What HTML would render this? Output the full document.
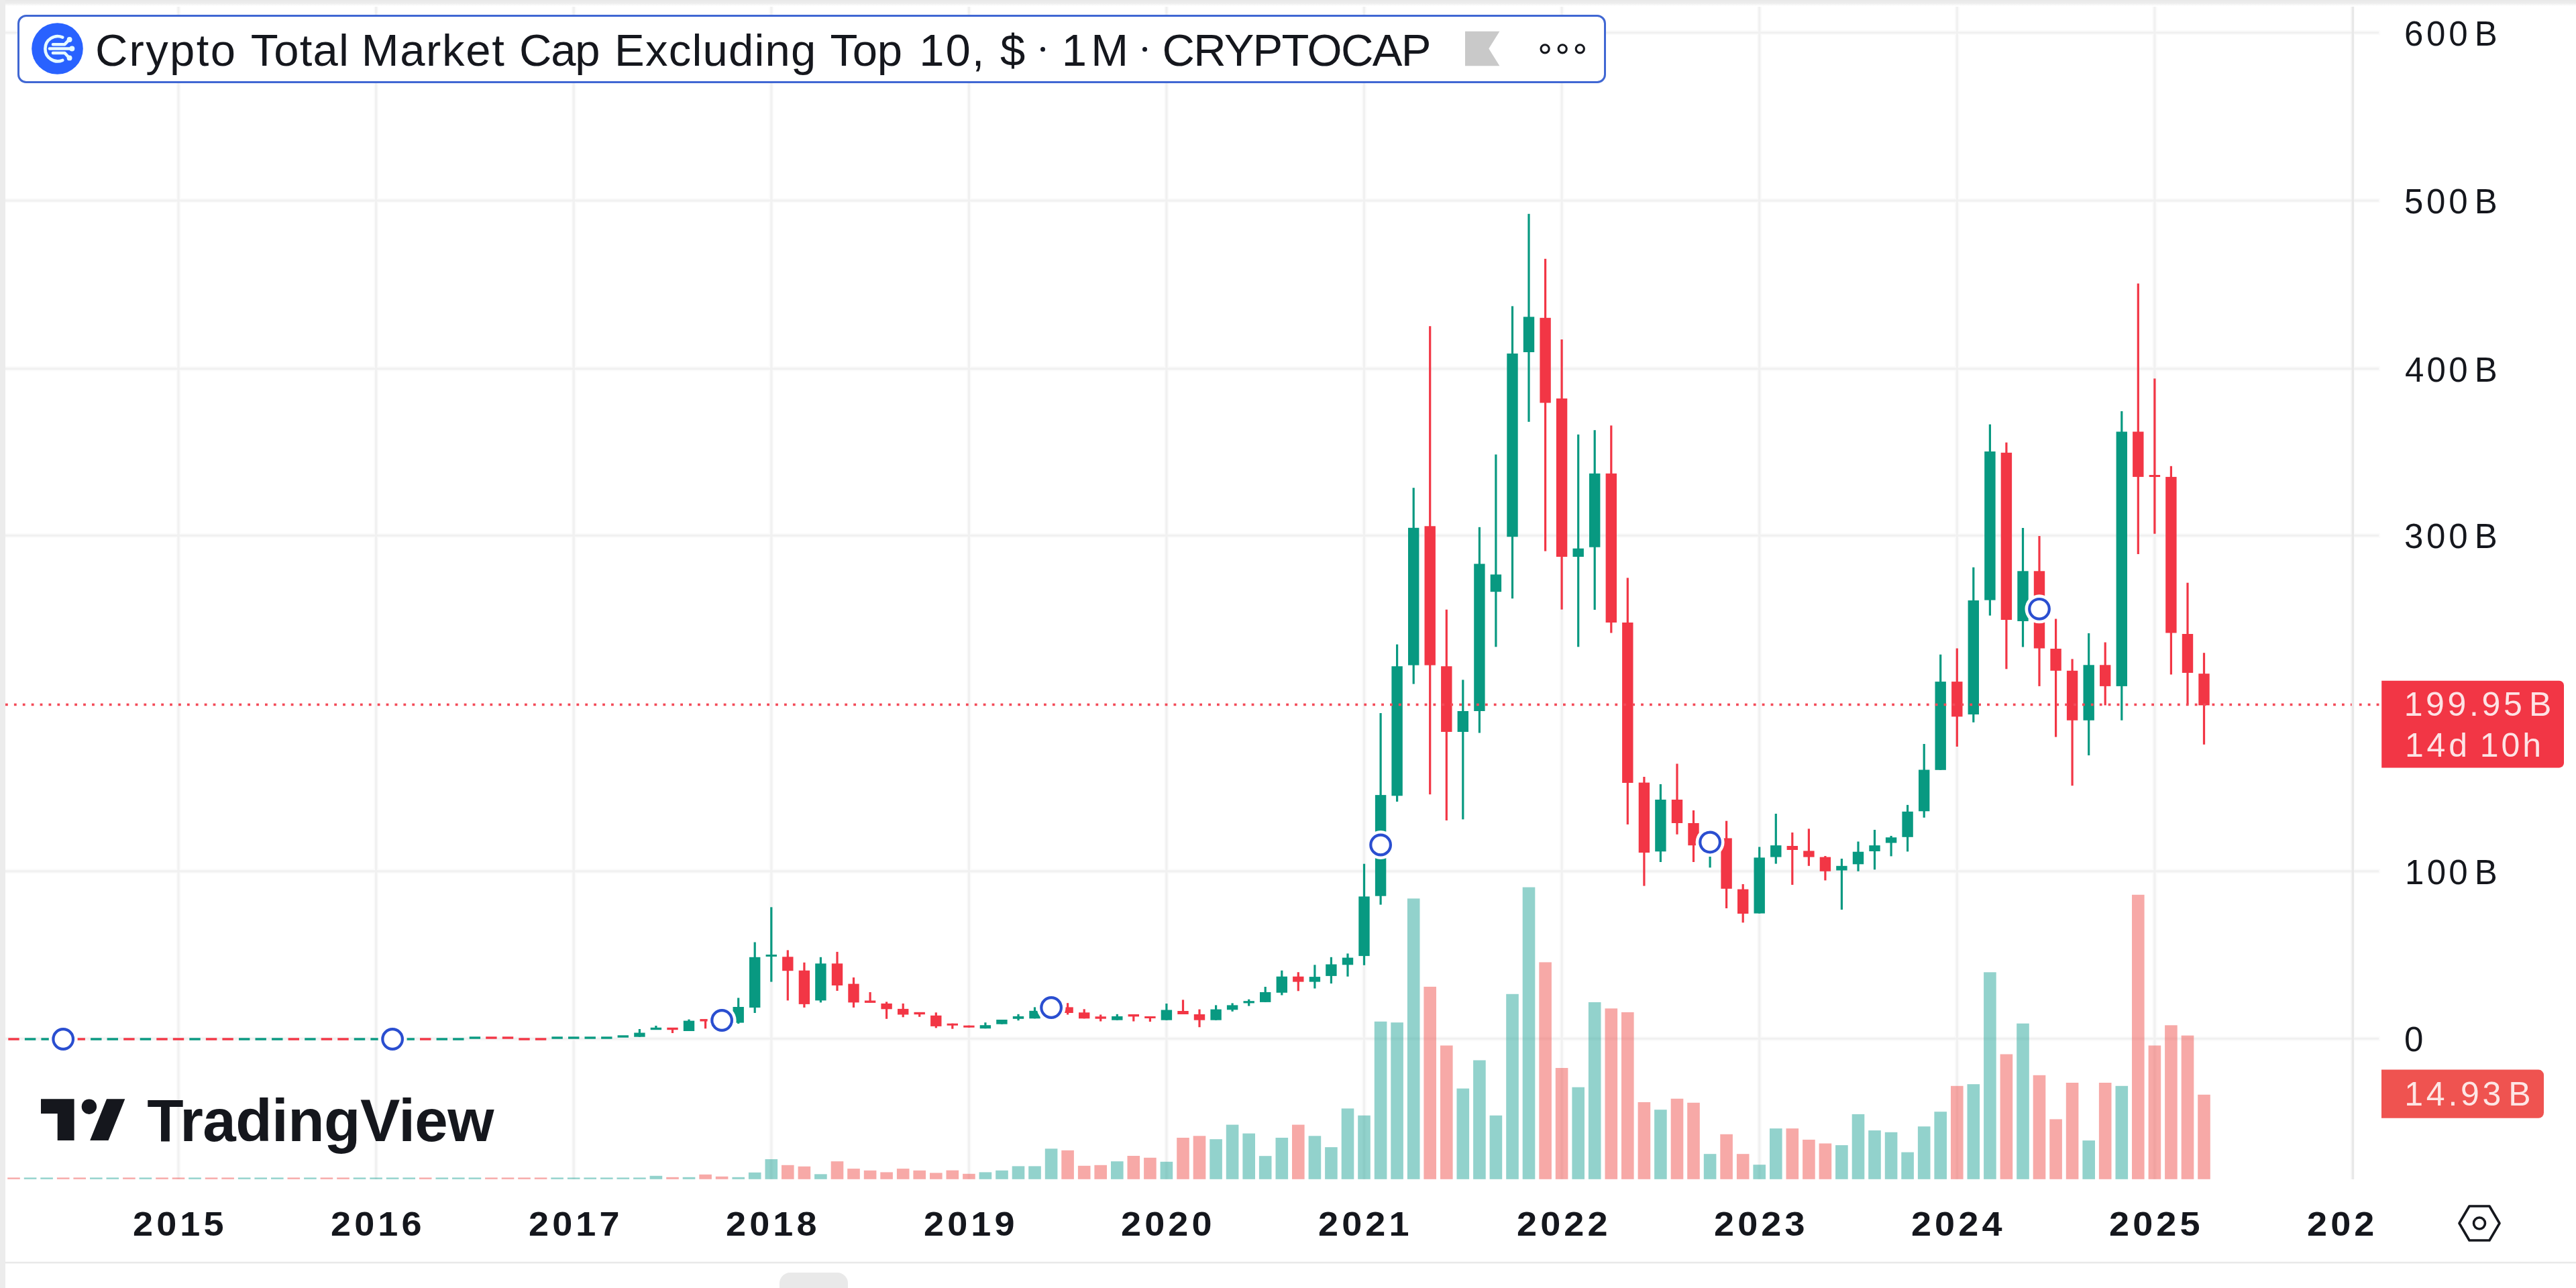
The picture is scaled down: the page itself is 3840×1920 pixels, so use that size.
<!DOCTYPE html>
<html><head><meta charset="utf-8">
<style>
html,body{margin:0;padding:0;background:#fff;}
body{width:3840px;height:1920px;position:relative;overflow:hidden;font-family:"Liberation Sans",sans-serif;}
#chart{position:absolute;left:0;top:0;}
.abs{position:absolute;white-space:nowrap;}
.ax{position:absolute;left:3584px;font-size:48px;color:#15171d;line-height:48px;height:48px;white-space:nowrap;letter-spacing:1.5px;}
.yr{position:absolute;top:1797px;font-size:49px;font-weight:bold;color:#15171d;line-height:56px;width:300px;margin-left:-150px;text-align:center;letter-spacing:5px;}
#hdr{position:absolute;left:26px;top:22px;width:2361.6px;height:95.6px;border:3.2px solid #4067d3;border-radius:13px;background:#fff;}
#title{position:absolute;left:144px;top:34px;font-size:68px;line-height:76px;color:#15171d;white-space:nowrap;}
</style></head><body>
<svg id="chart" width="3840" height="1920" viewBox="0 0 3840 1920">
<rect x="0" y="0" width="3840" height="1920" fill="#fff"/>
<defs><linearGradient id="tg" x1="0" y1="0" x2="0" y2="1"><stop offset="0" stop-color="#e8e8e8"/><stop offset="0.55" stop-color="#eeeeee"/><stop offset="1" stop-color="#ffffff"/></linearGradient></defs><rect x="0" y="0" width="3840" height="9" fill="url(#tg)"/>
<rect x="0" y="0" width="8" height="1920" fill="#ececec"/>
<rect x="8" y="45.2" width="3540" height="7" fill="#fbfbfb"/>
<rect x="8" y="295.5" width="3540" height="7" fill="#fbfbfb"/>
<rect x="8" y="546.2" width="3540" height="7" fill="#fbfbfb"/>
<rect x="8" y="794.8" width="3540" height="7" fill="#fbfbfb"/>
<rect x="8" y="1295.3" width="3540" height="7" fill="#fbfbfb"/>
<rect x="8" y="1544.8" width="3540" height="7" fill="#fbfbfb"/>
<rect x="262.5" y="10" width="7" height="1748" fill="#fbfbfb"/>
<rect x="557.1" y="10" width="7" height="1748" fill="#fbfbfb"/>
<rect x="851.7" y="10" width="7" height="1748" fill="#fbfbfb"/>
<rect x="1146.3" y="10" width="7" height="1748" fill="#fbfbfb"/>
<rect x="1440.9" y="10" width="7" height="1748" fill="#fbfbfb"/>
<rect x="1735.4" y="10" width="7" height="1748" fill="#fbfbfb"/>
<rect x="2030.0" y="10" width="7" height="1748" fill="#fbfbfb"/>
<rect x="2324.6" y="10" width="7" height="1748" fill="#fbfbfb"/>
<rect x="2619.2" y="10" width="7" height="1748" fill="#fbfbfb"/>
<rect x="2913.8" y="10" width="7" height="1748" fill="#fbfbfb"/>
<rect x="3208.4" y="10" width="7" height="1748" fill="#fbfbfb"/>
<rect x="3503.0" y="10" width="7" height="1748" fill="#fbfbfb"/>
<rect x="8" y="47.1" width="3538" height="3.2" fill="#f1f1f1"/>
<rect x="8" y="297.4" width="3538" height="3.2" fill="#f1f1f1"/>
<rect x="8" y="548.1" width="3538" height="3.2" fill="#f1f1f1"/>
<rect x="8" y="796.7" width="3538" height="3.2" fill="#f1f1f1"/>
<rect x="8" y="1297.2" width="3538" height="3.2" fill="#f1f1f1"/>
<rect x="8" y="1546.7" width="3538" height="3.2" fill="#f1f1f1"/>
<rect x="264.4" y="10" width="3.2" height="1748" fill="#f1f1f1"/>
<rect x="559.0" y="10" width="3.2" height="1748" fill="#f1f1f1"/>
<rect x="853.6" y="10" width="3.2" height="1748" fill="#f1f1f1"/>
<rect x="1148.2" y="10" width="3.2" height="1748" fill="#f1f1f1"/>
<rect x="1442.8" y="10" width="3.2" height="1748" fill="#f1f1f1"/>
<rect x="1737.3" y="10" width="3.2" height="1748" fill="#f1f1f1"/>
<rect x="2031.9" y="10" width="3.2" height="1748" fill="#f1f1f1"/>
<rect x="2326.5" y="10" width="3.2" height="1748" fill="#f1f1f1"/>
<rect x="2621.1" y="10" width="3.2" height="1748" fill="#f1f1f1"/>
<rect x="2915.7" y="10" width="3.2" height="1748" fill="#f1f1f1"/>
<rect x="3210.3" y="10" width="3.2" height="1748" fill="#f1f1f1"/>
<rect x="11.2" y="1755.4" width="18.6" height="2.4" fill="rgba(239,83,80,0.5)"/>
<rect x="35.8" y="1755.4" width="18.6" height="2.4" fill="rgba(38,166,154,0.5)"/>
<rect x="60.3" y="1755.4" width="18.6" height="2.4" fill="rgba(38,166,154,0.5)"/>
<rect x="84.9" y="1755.4" width="18.6" height="2.4" fill="rgba(239,83,80,0.5)"/>
<rect x="109.4" y="1755.4" width="18.6" height="2.4" fill="rgba(239,83,80,0.5)"/>
<rect x="134.0" y="1755.4" width="18.6" height="2.4" fill="rgba(38,166,154,0.5)"/>
<rect x="158.5" y="1755.4" width="18.6" height="2.4" fill="rgba(38,166,154,0.5)"/>
<rect x="183.1" y="1755.4" width="18.6" height="2.4" fill="rgba(239,83,80,0.5)"/>
<rect x="207.6" y="1755.4" width="18.6" height="2.4" fill="rgba(38,166,154,0.5)"/>
<rect x="232.2" y="1755.4" width="18.6" height="2.4" fill="rgba(239,83,80,0.5)"/>
<rect x="256.7" y="1755.4" width="18.6" height="2.4" fill="rgba(239,83,80,0.5)"/>
<rect x="281.2" y="1755.4" width="18.6" height="2.4" fill="rgba(38,166,154,0.5)"/>
<rect x="305.8" y="1755.4" width="18.6" height="2.4" fill="rgba(239,83,80,0.5)"/>
<rect x="330.3" y="1755.4" width="18.6" height="2.4" fill="rgba(239,83,80,0.5)"/>
<rect x="354.9" y="1755.4" width="18.6" height="2.4" fill="rgba(38,166,154,0.5)"/>
<rect x="379.4" y="1755.4" width="18.6" height="2.4" fill="rgba(38,166,154,0.5)"/>
<rect x="404.0" y="1755.4" width="18.6" height="2.4" fill="rgba(38,166,154,0.5)"/>
<rect x="428.5" y="1755.4" width="18.6" height="2.4" fill="rgba(239,83,80,0.5)"/>
<rect x="453.1" y="1755.4" width="18.6" height="2.4" fill="rgba(38,166,154,0.5)"/>
<rect x="477.6" y="1755.4" width="18.6" height="2.4" fill="rgba(239,83,80,0.5)"/>
<rect x="502.2" y="1755.4" width="18.6" height="2.4" fill="rgba(239,83,80,0.5)"/>
<rect x="526.7" y="1755.4" width="18.6" height="2.4" fill="rgba(38,166,154,0.5)"/>
<rect x="551.3" y="1755.4" width="18.6" height="2.4" fill="rgba(38,166,154,0.5)"/>
<rect x="575.8" y="1755.4" width="18.6" height="2.4" fill="rgba(38,166,154,0.5)"/>
<rect x="600.4" y="1755.4" width="18.6" height="2.4" fill="rgba(38,166,154,0.5)"/>
<rect x="624.9" y="1755.4" width="18.6" height="2.4" fill="rgba(239,83,80,0.5)"/>
<rect x="649.5" y="1755.4" width="18.6" height="2.4" fill="rgba(38,166,154,0.5)"/>
<rect x="674.0" y="1755.4" width="18.6" height="2.4" fill="rgba(38,166,154,0.5)"/>
<rect x="698.6" y="1755.4" width="18.6" height="2.4" fill="rgba(38,166,154,0.5)"/>
<rect x="723.1" y="1755.4" width="18.6" height="2.4" fill="rgba(239,83,80,0.5)"/>
<rect x="747.7" y="1755.4" width="18.6" height="2.4" fill="rgba(239,83,80,0.5)"/>
<rect x="772.2" y="1755.4" width="18.6" height="2.4" fill="rgba(239,83,80,0.5)"/>
<rect x="796.8" y="1755.4" width="18.6" height="2.4" fill="rgba(239,83,80,0.5)"/>
<rect x="821.3" y="1755.4" width="18.6" height="2.4" fill="rgba(38,166,154,0.5)"/>
<rect x="845.9" y="1755.4" width="18.6" height="2.4" fill="rgba(38,166,154,0.5)"/>
<rect x="870.4" y="1755.4" width="18.6" height="2.4" fill="rgba(38,166,154,0.5)"/>
<rect x="895.0" y="1755.4" width="18.6" height="2.4" fill="rgba(38,166,154,0.5)"/>
<rect x="919.5" y="1755.4" width="18.6" height="2.4" fill="rgba(38,166,154,0.5)"/>
<rect x="944.1" y="1755.4" width="18.6" height="2.4" fill="rgba(38,166,154,0.5)"/>
<rect x="968.6" y="1752.8" width="18.6" height="5.0" fill="rgba(38,166,154,0.5)"/>
<rect x="993.2" y="1754.8" width="18.6" height="3.0" fill="rgba(239,83,80,0.5)"/>
<rect x="1017.7" y="1754.8" width="18.6" height="3.0" fill="rgba(38,166,154,0.5)"/>
<rect x="1042.3" y="1750.8" width="18.6" height="7.0" fill="rgba(239,83,80,0.5)"/>
<rect x="1066.8" y="1753.8" width="18.6" height="4.0" fill="rgba(239,83,80,0.5)"/>
<rect x="1091.4" y="1754.8" width="18.6" height="3.0" fill="rgba(38,166,154,0.5)"/>
<rect x="1115.9" y="1747.8" width="18.6" height="10.0" fill="rgba(38,166,154,0.5)"/>
<rect x="1140.5" y="1728.0" width="18.6" height="29.8" fill="rgba(38,166,154,0.5)"/>
<rect x="1165.0" y="1736.8" width="18.6" height="21.0" fill="rgba(239,83,80,0.5)"/>
<rect x="1189.6" y="1738.8" width="18.6" height="19.0" fill="rgba(239,83,80,0.5)"/>
<rect x="1214.1" y="1750.3" width="18.6" height="7.5" fill="rgba(38,166,154,0.5)"/>
<rect x="1238.7" y="1731.2" width="18.6" height="26.6" fill="rgba(239,83,80,0.5)"/>
<rect x="1263.2" y="1742.1" width="18.6" height="15.7" fill="rgba(239,83,80,0.5)"/>
<rect x="1287.8" y="1744.8" width="18.6" height="13.0" fill="rgba(239,83,80,0.5)"/>
<rect x="1312.3" y="1747.4" width="18.6" height="10.4" fill="rgba(239,83,80,0.5)"/>
<rect x="1336.9" y="1742.1" width="18.6" height="15.7" fill="rgba(239,83,80,0.5)"/>
<rect x="1361.4" y="1744.8" width="18.6" height="13.0" fill="rgba(239,83,80,0.5)"/>
<rect x="1386.0" y="1748.4" width="18.6" height="9.4" fill="rgba(239,83,80,0.5)"/>
<rect x="1410.5" y="1744.6" width="18.6" height="13.2" fill="rgba(239,83,80,0.5)"/>
<rect x="1435.1" y="1749.8" width="18.6" height="8.0" fill="rgba(239,83,80,0.5)"/>
<rect x="1459.6" y="1747.4" width="18.6" height="10.4" fill="rgba(38,166,154,0.5)"/>
<rect x="1484.2" y="1744.8" width="18.6" height="13.0" fill="rgba(38,166,154,0.5)"/>
<rect x="1508.7" y="1738.4" width="18.6" height="19.4" fill="rgba(38,166,154,0.5)"/>
<rect x="1533.2" y="1738.4" width="18.6" height="19.4" fill="rgba(38,166,154,0.5)"/>
<rect x="1557.8" y="1712.3" width="18.6" height="45.5" fill="rgba(38,166,154,0.5)"/>
<rect x="1582.3" y="1714.8" width="18.6" height="43.0" fill="rgba(239,83,80,0.5)"/>
<rect x="1606.9" y="1737.8" width="18.6" height="20.0" fill="rgba(239,83,80,0.5)"/>
<rect x="1631.4" y="1736.8" width="18.6" height="21.0" fill="rgba(239,83,80,0.5)"/>
<rect x="1656.0" y="1731.2" width="18.6" height="26.6" fill="rgba(38,166,154,0.5)"/>
<rect x="1680.5" y="1723.0" width="18.6" height="34.8" fill="rgba(239,83,80,0.5)"/>
<rect x="1705.1" y="1725.8" width="18.6" height="32.0" fill="rgba(239,83,80,0.5)"/>
<rect x="1729.6" y="1731.8" width="18.6" height="26.0" fill="rgba(38,166,154,0.5)"/>
<rect x="1754.2" y="1696.0" width="18.6" height="61.8" fill="rgba(239,83,80,0.5)"/>
<rect x="1778.7" y="1693.3" width="18.6" height="64.5" fill="rgba(239,83,80,0.5)"/>
<rect x="1803.3" y="1698.2" width="18.6" height="59.6" fill="rgba(38,166,154,0.5)"/>
<rect x="1827.8" y="1676.6" width="18.6" height="81.2" fill="rgba(38,166,154,0.5)"/>
<rect x="1852.4" y="1689.6" width="18.6" height="68.2" fill="rgba(38,166,154,0.5)"/>
<rect x="1876.9" y="1723.2" width="18.6" height="34.6" fill="rgba(38,166,154,0.5)"/>
<rect x="1901.5" y="1696.0" width="18.6" height="61.8" fill="rgba(38,166,154,0.5)"/>
<rect x="1926.0" y="1676.6" width="18.6" height="81.2" fill="rgba(239,83,80,0.5)"/>
<rect x="1950.6" y="1693.3" width="18.6" height="64.5" fill="rgba(38,166,154,0.5)"/>
<rect x="1975.1" y="1710.1" width="18.6" height="47.7" fill="rgba(38,166,154,0.5)"/>
<rect x="1999.7" y="1652.4" width="18.6" height="105.4" fill="rgba(38,166,154,0.5)"/>
<rect x="2024.2" y="1662.8" width="18.6" height="95.0" fill="rgba(38,166,154,0.5)"/>
<rect x="2048.8" y="1522.8" width="18.6" height="235.0" fill="rgba(38,166,154,0.5)"/>
<rect x="2073.3" y="1524.2" width="18.6" height="233.6" fill="rgba(38,166,154,0.5)"/>
<rect x="2097.9" y="1339.4" width="18.6" height="418.4" fill="rgba(38,166,154,0.5)"/>
<rect x="2122.4" y="1470.9" width="18.6" height="286.9" fill="rgba(239,83,80,0.5)"/>
<rect x="2147.0" y="1558.5" width="18.6" height="199.3" fill="rgba(239,83,80,0.5)"/>
<rect x="2171.5" y="1622.6" width="18.6" height="135.2" fill="rgba(38,166,154,0.5)"/>
<rect x="2196.1" y="1580.5" width="18.6" height="177.3" fill="rgba(38,166,154,0.5)"/>
<rect x="2220.6" y="1662.8" width="18.6" height="95.0" fill="rgba(38,166,154,0.5)"/>
<rect x="2245.2" y="1481.8" width="18.6" height="276.0" fill="rgba(38,166,154,0.5)"/>
<rect x="2269.7" y="1322.6" width="18.6" height="435.2" fill="rgba(38,166,154,0.5)"/>
<rect x="2294.3" y="1434.4" width="18.6" height="323.4" fill="rgba(239,83,80,0.5)"/>
<rect x="2318.8" y="1592.0" width="18.6" height="165.8" fill="rgba(239,83,80,0.5)"/>
<rect x="2343.4" y="1620.7" width="18.6" height="137.1" fill="rgba(38,166,154,0.5)"/>
<rect x="2367.9" y="1494.0" width="18.6" height="263.8" fill="rgba(38,166,154,0.5)"/>
<rect x="2392.5" y="1503.3" width="18.6" height="254.5" fill="rgba(239,83,80,0.5)"/>
<rect x="2417.0" y="1508.9" width="18.6" height="248.9" fill="rgba(239,83,80,0.5)"/>
<rect x="2441.6" y="1643.0" width="18.6" height="114.8" fill="rgba(239,83,80,0.5)"/>
<rect x="2466.1" y="1654.2" width="18.6" height="103.6" fill="rgba(38,166,154,0.5)"/>
<rect x="2490.7" y="1637.8" width="18.6" height="120.0" fill="rgba(239,83,80,0.5)"/>
<rect x="2515.2" y="1643.8" width="18.6" height="114.0" fill="rgba(239,83,80,0.5)"/>
<rect x="2539.8" y="1720.2" width="18.6" height="37.6" fill="rgba(38,166,154,0.5)"/>
<rect x="2564.3" y="1690.8" width="18.6" height="67.0" fill="rgba(239,83,80,0.5)"/>
<rect x="2588.9" y="1720.2" width="18.6" height="37.6" fill="rgba(239,83,80,0.5)"/>
<rect x="2613.4" y="1736.2" width="18.6" height="21.6" fill="rgba(38,166,154,0.5)"/>
<rect x="2638.0" y="1682.2" width="18.6" height="75.6" fill="rgba(38,166,154,0.5)"/>
<rect x="2662.5" y="1682.2" width="18.6" height="75.6" fill="rgba(239,83,80,0.5)"/>
<rect x="2687.1" y="1698.9" width="18.6" height="58.9" fill="rgba(239,83,80,0.5)"/>
<rect x="2711.6" y="1704.5" width="18.6" height="53.3" fill="rgba(239,83,80,0.5)"/>
<rect x="2736.1" y="1707.1" width="18.6" height="50.7" fill="rgba(38,166,154,0.5)"/>
<rect x="2760.7" y="1660.9" width="18.6" height="96.9" fill="rgba(38,166,154,0.5)"/>
<rect x="2785.2" y="1685.1" width="18.6" height="72.7" fill="rgba(38,166,154,0.5)"/>
<rect x="2809.8" y="1687.8" width="18.6" height="70.0" fill="rgba(38,166,154,0.5)"/>
<rect x="2834.3" y="1717.6" width="18.6" height="40.2" fill="rgba(38,166,154,0.5)"/>
<rect x="2858.9" y="1679.2" width="18.6" height="78.6" fill="rgba(38,166,154,0.5)"/>
<rect x="2883.4" y="1657.2" width="18.6" height="100.6" fill="rgba(38,166,154,0.5)"/>
<rect x="2908.0" y="1618.8" width="18.6" height="139.0" fill="rgba(239,83,80,0.5)"/>
<rect x="2932.5" y="1616.2" width="18.6" height="141.6" fill="rgba(38,166,154,0.5)"/>
<rect x="2957.1" y="1449.3" width="18.6" height="308.5" fill="rgba(38,166,154,0.5)"/>
<rect x="2981.6" y="1571.5" width="18.6" height="186.3" fill="rgba(239,83,80,0.5)"/>
<rect x="3006.2" y="1525.7" width="18.6" height="232.1" fill="rgba(38,166,154,0.5)"/>
<rect x="3030.7" y="1602.8" width="18.6" height="155.0" fill="rgba(239,83,80,0.5)"/>
<rect x="3055.3" y="1668.4" width="18.6" height="89.4" fill="rgba(239,83,80,0.5)"/>
<rect x="3079.8" y="1614.0" width="18.6" height="143.8" fill="rgba(239,83,80,0.5)"/>
<rect x="3104.4" y="1700.1" width="18.6" height="57.7" fill="rgba(38,166,154,0.5)"/>
<rect x="3128.9" y="1614.0" width="18.6" height="143.8" fill="rgba(239,83,80,0.5)"/>
<rect x="3153.5" y="1618.8" width="18.6" height="139.0" fill="rgba(38,166,154,0.5)"/>
<rect x="3178.0" y="1333.8" width="18.6" height="424.0" fill="rgba(239,83,80,0.5)"/>
<rect x="3202.6" y="1558.5" width="18.6" height="199.3" fill="rgba(239,83,80,0.5)"/>
<rect x="3227.1" y="1528.3" width="18.6" height="229.5" fill="rgba(239,83,80,0.5)"/>
<rect x="3251.7" y="1543.6" width="18.6" height="214.2" fill="rgba(239,83,80,0.5)"/>
<rect x="3276.2" y="1631.8" width="18.6" height="126.0" fill="rgba(239,83,80,0.5)"/>
<rect x="12.3" y="1547.3" width="16.4" height="3.4" fill="#f23645"/>
<rect x="36.9" y="1547.3" width="16.4" height="3.4" fill="#089981"/>
<rect x="61.4" y="1547.3" width="16.4" height="3.4" fill="#089981"/>
<rect x="86.0" y="1547.3" width="16.4" height="3.4" fill="#f23645"/>
<rect x="110.5" y="1547.3" width="16.4" height="3.4" fill="#f23645"/>
<rect x="135.1" y="1547.3" width="16.4" height="3.4" fill="#089981"/>
<rect x="159.6" y="1547.3" width="16.4" height="3.4" fill="#089981"/>
<rect x="184.2" y="1547.3" width="16.4" height="3.4" fill="#f23645"/>
<rect x="208.7" y="1547.3" width="16.4" height="3.4" fill="#089981"/>
<rect x="233.3" y="1547.3" width="16.4" height="3.4" fill="#f23645"/>
<rect x="257.8" y="1547.3" width="16.4" height="3.4" fill="#f23645"/>
<rect x="282.3" y="1547.3" width="16.4" height="3.4" fill="#089981"/>
<rect x="306.9" y="1547.3" width="16.4" height="3.4" fill="#f23645"/>
<rect x="331.4" y="1547.3" width="16.4" height="3.4" fill="#f23645"/>
<rect x="356.0" y="1547.3" width="16.4" height="3.4" fill="#089981"/>
<rect x="380.5" y="1547.3" width="16.4" height="3.4" fill="#089981"/>
<rect x="405.1" y="1547.3" width="16.4" height="3.4" fill="#089981"/>
<rect x="429.6" y="1547.3" width="16.4" height="3.4" fill="#f23645"/>
<rect x="454.2" y="1547.3" width="16.4" height="3.4" fill="#089981"/>
<rect x="478.7" y="1547.3" width="16.4" height="3.4" fill="#f23645"/>
<rect x="503.3" y="1547.3" width="16.4" height="3.4" fill="#f23645"/>
<rect x="527.8" y="1547.3" width="16.4" height="3.4" fill="#089981"/>
<rect x="552.4" y="1547.3" width="16.4" height="3.4" fill="#089981"/>
<rect x="576.9" y="1547.3" width="16.4" height="3.4" fill="#089981"/>
<rect x="601.5" y="1547.3" width="16.4" height="3.4" fill="#089981"/>
<rect x="626.0" y="1547.3" width="16.4" height="3.4" fill="#f23645"/>
<rect x="650.6" y="1547.3" width="16.4" height="3.4" fill="#089981"/>
<rect x="675.1" y="1547.3" width="16.4" height="3.4" fill="#089981"/>
<rect x="699.7" y="1545.3" width="16.4" height="3.4" fill="#089981"/>
<rect x="724.2" y="1545.3" width="16.4" height="3.4" fill="#f23645"/>
<rect x="748.8" y="1545.3" width="16.4" height="3.4" fill="#f23645"/>
<rect x="773.3" y="1547.3" width="16.4" height="3.4" fill="#f23645"/>
<rect x="797.9" y="1547.3" width="16.4" height="3.4" fill="#f23645"/>
<rect x="822.4" y="1545.3" width="16.4" height="3.4" fill="#089981"/>
<rect x="847.0" y="1545.3" width="16.4" height="3.4" fill="#089981"/>
<rect x="871.5" y="1545.3" width="16.4" height="3.4" fill="#089981"/>
<rect x="896.1" y="1545.3" width="16.4" height="3.4" fill="#089981"/>
<rect x="920.6" y="1543.3" width="16.4" height="3.4" fill="#089981"/>
<rect x="951.8" y="1534.0" width="3.2" height="11.7" fill="#089981"/>
<rect x="945.2" y="1539.5" width="16.4" height="6.2" fill="#089981"/>
<rect x="976.3" y="1529.0" width="3.2" height="5.5" fill="#089981"/>
<rect x="969.7" y="1531.8" width="16.4" height="3.4" fill="#089981"/>
<rect x="1000.9" y="1532.5" width="3.2" height="7.5" fill="#f23645"/>
<rect x="994.3" y="1531.8" width="16.4" height="3.4" fill="#f23645"/>
<rect x="1025.4" y="1519.6" width="3.2" height="17.4" fill="#089981"/>
<rect x="1018.8" y="1521.6" width="16.4" height="15.4" fill="#089981"/>
<rect x="1050.0" y="1519.6" width="3.2" height="13.7" fill="#f23645"/>
<rect x="1043.4" y="1519.1" width="16.4" height="3.4" fill="#f23645"/>
<rect x="1074.5" y="1517.0" width="3.2" height="10.0" fill="#f23645"/>
<rect x="1067.9" y="1519.0" width="16.4" height="5.0" fill="#f23645"/>
<rect x="1099.1" y="1487.5" width="3.2" height="38.5" fill="#089981"/>
<rect x="1092.5" y="1501.0" width="16.4" height="23.6" fill="#089981"/>
<rect x="1123.6" y="1404.5" width="3.2" height="105.5" fill="#089981"/>
<rect x="1117.0" y="1426.8" width="16.4" height="75.2" fill="#089981"/>
<rect x="1148.2" y="1352.3" width="3.2" height="111.3" fill="#089981"/>
<rect x="1141.6" y="1423.0" width="16.4" height="3.0" fill="#089981"/>
<rect x="1172.7" y="1416.4" width="3.2" height="75.0" fill="#f23645"/>
<rect x="1166.1" y="1426.3" width="16.4" height="20.9" fill="#f23645"/>
<rect x="1197.3" y="1434.8" width="3.2" height="67.1" fill="#f23645"/>
<rect x="1190.7" y="1446.7" width="16.4" height="50.2" fill="#f23645"/>
<rect x="1221.8" y="1426.8" width="3.2" height="67.6" fill="#089981"/>
<rect x="1215.2" y="1436.3" width="16.4" height="55.1" fill="#089981"/>
<rect x="1246.4" y="1418.9" width="3.2" height="58.1" fill="#f23645"/>
<rect x="1239.8" y="1436.3" width="16.4" height="32.7" fill="#f23645"/>
<rect x="1270.9" y="1457.1" width="3.2" height="44.8" fill="#f23645"/>
<rect x="1264.3" y="1466.6" width="16.4" height="27.8" fill="#f23645"/>
<rect x="1295.5" y="1479.0" width="3.2" height="15.4" fill="#f23645"/>
<rect x="1288.9" y="1491.5" width="16.4" height="3.4" fill="#f23645"/>
<rect x="1320.0" y="1493.4" width="3.2" height="25.4" fill="#f23645"/>
<rect x="1313.4" y="1495.9" width="16.4" height="8.4" fill="#f23645"/>
<rect x="1344.6" y="1495.9" width="3.2" height="20.4" fill="#f23645"/>
<rect x="1338.0" y="1503.9" width="16.4" height="8.6" fill="#f23645"/>
<rect x="1369.1" y="1509.3" width="3.2" height="6.5" fill="#f23645"/>
<rect x="1362.5" y="1508.8" width="16.4" height="3.4" fill="#f23645"/>
<rect x="1393.7" y="1509.3" width="3.2" height="23.1" fill="#f23645"/>
<rect x="1387.1" y="1513.8" width="16.4" height="16.1" fill="#f23645"/>
<rect x="1418.2" y="1525.7" width="3.2" height="8.0" fill="#f23645"/>
<rect x="1411.6" y="1525.7" width="16.4" height="3.0" fill="#f23645"/>
<rect x="1442.8" y="1528.7" width="3.2" height="3.0" fill="#f23645"/>
<rect x="1436.2" y="1528.7" width="16.4" height="3.0" fill="#f23645"/>
<rect x="1467.3" y="1524.2" width="3.2" height="9.0" fill="#089981"/>
<rect x="1460.7" y="1528.2" width="16.4" height="5.0" fill="#089981"/>
<rect x="1491.9" y="1520.0" width="3.2" height="6.7" fill="#089981"/>
<rect x="1485.2" y="1520.0" width="16.4" height="6.7" fill="#089981"/>
<rect x="1516.4" y="1511.8" width="3.2" height="9.4" fill="#089981"/>
<rect x="1509.8" y="1515.0" width="16.4" height="3.8" fill="#089981"/>
<rect x="1540.9" y="1501.4" width="3.2" height="16.9" fill="#089981"/>
<rect x="1534.3" y="1506.8" width="16.4" height="11.5" fill="#089981"/>
<rect x="1565.5" y="1492.0" width="3.2" height="17.0" fill="#089981"/>
<rect x="1558.9" y="1496.0" width="16.4" height="11.0" fill="#089981"/>
<rect x="1590.0" y="1495.2" width="3.2" height="17.3" fill="#f23645"/>
<rect x="1583.4" y="1501.4" width="16.4" height="8.6" fill="#f23645"/>
<rect x="1614.6" y="1504.3" width="3.2" height="14.0" fill="#f23645"/>
<rect x="1608.0" y="1509.3" width="16.4" height="9.0" fill="#f23645"/>
<rect x="1639.1" y="1512.5" width="3.2" height="10.0" fill="#f23645"/>
<rect x="1632.5" y="1515.3" width="16.4" height="3.4" fill="#f23645"/>
<rect x="1663.7" y="1511.8" width="3.2" height="8.9" fill="#089981"/>
<rect x="1657.1" y="1515.0" width="16.4" height="5.7" fill="#089981"/>
<rect x="1688.2" y="1512.5" width="3.2" height="10.0" fill="#f23645"/>
<rect x="1681.6" y="1512.0" width="16.4" height="3.4" fill="#f23645"/>
<rect x="1712.8" y="1515.0" width="3.2" height="8.0" fill="#f23645"/>
<rect x="1706.2" y="1515.0" width="16.4" height="3.0" fill="#f23645"/>
<rect x="1737.3" y="1496.0" width="3.2" height="24.7" fill="#089981"/>
<rect x="1730.7" y="1505.5" width="16.4" height="15.2" fill="#089981"/>
<rect x="1761.9" y="1490.4" width="3.2" height="21.6" fill="#f23645"/>
<rect x="1755.3" y="1507.0" width="16.4" height="5.0" fill="#f23645"/>
<rect x="1786.4" y="1504.6" width="3.2" height="26.6" fill="#f23645"/>
<rect x="1779.8" y="1512.0" width="16.4" height="8.7" fill="#f23645"/>
<rect x="1811.0" y="1498.4" width="3.2" height="22.3" fill="#089981"/>
<rect x="1804.4" y="1504.6" width="16.4" height="16.1" fill="#089981"/>
<rect x="1835.5" y="1495.4" width="3.2" height="12.4" fill="#089981"/>
<rect x="1828.9" y="1498.4" width="16.4" height="6.9" fill="#089981"/>
<rect x="1860.1" y="1489.7" width="3.2" height="9.9" fill="#089981"/>
<rect x="1853.5" y="1492.2" width="16.4" height="3.2" fill="#089981"/>
<rect x="1884.6" y="1471.0" width="3.2" height="22.9" fill="#089981"/>
<rect x="1878.0" y="1479.0" width="16.4" height="14.9" fill="#089981"/>
<rect x="1909.2" y="1446.7" width="3.2" height="36.8" fill="#089981"/>
<rect x="1902.6" y="1455.7" width="16.4" height="24.1" fill="#089981"/>
<rect x="1933.7" y="1449.2" width="3.2" height="28.1" fill="#f23645"/>
<rect x="1927.1" y="1455.7" width="16.4" height="7.9" fill="#f23645"/>
<rect x="1958.3" y="1438.3" width="3.2" height="35.2" fill="#089981"/>
<rect x="1951.7" y="1456.1" width="16.4" height="7.5" fill="#089981"/>
<rect x="1982.8" y="1426.8" width="3.2" height="39.3" fill="#089981"/>
<rect x="1976.2" y="1437.5" width="16.4" height="17.4" fill="#089981"/>
<rect x="2007.4" y="1421.4" width="3.2" height="34.3" fill="#089981"/>
<rect x="2000.8" y="1427.6" width="16.4" height="10.7" fill="#089981"/>
<rect x="2031.9" y="1287.7" width="3.2" height="151.1" fill="#089981"/>
<rect x="2025.3" y="1336.4" width="16.4" height="88.7" fill="#089981"/>
<rect x="2056.5" y="1063.0" width="3.2" height="285.6" fill="#089981"/>
<rect x="2049.9" y="1185.1" width="16.4" height="150.6" fill="#089981"/>
<rect x="2081.0" y="960.6" width="3.2" height="234.4" fill="#089981"/>
<rect x="2074.4" y="993.2" width="16.4" height="193.1" fill="#089981"/>
<rect x="2105.6" y="727.2" width="3.2" height="292.4" fill="#089981"/>
<rect x="2099.0" y="786.8" width="16.4" height="204.8" fill="#089981"/>
<rect x="2130.1" y="486.2" width="3.2" height="698.0" fill="#f23645"/>
<rect x="2123.5" y="784.3" width="16.4" height="207.3" fill="#f23645"/>
<rect x="2154.7" y="908.7" width="3.2" height="314.3" fill="#f23645"/>
<rect x="2148.1" y="993.2" width="16.4" height="97.8" fill="#f23645"/>
<rect x="2179.2" y="1013.4" width="3.2" height="208.0" fill="#089981"/>
<rect x="2172.6" y="1060.0" width="16.4" height="31.0" fill="#089981"/>
<rect x="2203.8" y="785.8" width="3.2" height="306.7" fill="#089981"/>
<rect x="2197.2" y="840.5" width="16.4" height="219.5" fill="#089981"/>
<rect x="2228.3" y="677.5" width="3.2" height="286.8" fill="#089981"/>
<rect x="2221.7" y="856.4" width="16.4" height="25.8" fill="#089981"/>
<rect x="2252.9" y="456.4" width="3.2" height="435.8" fill="#089981"/>
<rect x="2246.3" y="527.0" width="16.4" height="273.2" fill="#089981"/>
<rect x="2277.4" y="318.8" width="3.2" height="310.0" fill="#089981"/>
<rect x="2270.8" y="472.3" width="16.4" height="52.7" fill="#089981"/>
<rect x="2302.0" y="385.8" width="3.2" height="435.8" fill="#f23645"/>
<rect x="2295.4" y="473.8" width="16.4" height="126.7" fill="#f23645"/>
<rect x="2326.5" y="506.0" width="3.2" height="402.6" fill="#f23645"/>
<rect x="2319.9" y="594.0" width="16.4" height="236.0" fill="#f23645"/>
<rect x="2351.1" y="647.7" width="3.2" height="316.6" fill="#089981"/>
<rect x="2344.5" y="817.6" width="16.4" height="12.4" fill="#089981"/>
<rect x="2375.6" y="641.2" width="3.2" height="267.8" fill="#089981"/>
<rect x="2369.0" y="705.8" width="16.4" height="109.9" fill="#089981"/>
<rect x="2400.2" y="634.3" width="3.2" height="309.2" fill="#f23645"/>
<rect x="2393.6" y="705.8" width="16.4" height="222.2" fill="#f23645"/>
<rect x="2424.7" y="861.4" width="3.2" height="367.6" fill="#f23645"/>
<rect x="2418.1" y="928.0" width="16.4" height="239.0" fill="#f23645"/>
<rect x="2449.3" y="1158.0" width="3.2" height="162.6" fill="#f23645"/>
<rect x="2442.7" y="1166.6" width="16.4" height="104.4" fill="#f23645"/>
<rect x="2473.8" y="1169.0" width="3.2" height="116.0" fill="#089981"/>
<rect x="2467.2" y="1192.0" width="16.4" height="77.3" fill="#089981"/>
<rect x="2498.4" y="1138.5" width="3.2" height="105.3" fill="#f23645"/>
<rect x="2491.8" y="1192.0" width="16.4" height="35.0" fill="#f23645"/>
<rect x="2522.9" y="1208.0" width="3.2" height="77.0" fill="#f23645"/>
<rect x="2516.3" y="1227.0" width="16.4" height="33.2" fill="#f23645"/>
<rect x="2547.5" y="1277.0" width="3.2" height="16.3" fill="#089981"/>
<rect x="2540.9" y="1250.0" width="16.4" height="12.0" fill="#089981"/>
<rect x="2572.0" y="1223.7" width="3.2" height="130.3" fill="#f23645"/>
<rect x="2565.4" y="1249.5" width="16.4" height="75.3" fill="#f23645"/>
<rect x="2596.6" y="1318.0" width="3.2" height="57.3" fill="#f23645"/>
<rect x="2590.0" y="1325.6" width="16.4" height="36.4" fill="#f23645"/>
<rect x="2621.1" y="1262.5" width="3.2" height="99.1" fill="#089981"/>
<rect x="2614.5" y="1278.4" width="16.4" height="83.2" fill="#089981"/>
<rect x="2645.7" y="1213.0" width="3.2" height="74.6" fill="#089981"/>
<rect x="2639.1" y="1260.2" width="16.4" height="17.4" fill="#089981"/>
<rect x="2670.2" y="1241.0" width="3.2" height="78.0" fill="#f23645"/>
<rect x="2663.6" y="1261.0" width="16.4" height="6.0" fill="#f23645"/>
<rect x="2694.8" y="1235.4" width="3.2" height="55.4" fill="#f23645"/>
<rect x="2688.2" y="1268.4" width="16.4" height="9.2" fill="#f23645"/>
<rect x="2719.3" y="1276.0" width="3.2" height="36.4" fill="#f23645"/>
<rect x="2712.7" y="1277.6" width="16.4" height="21.2" fill="#f23645"/>
<rect x="2743.8" y="1280.0" width="3.2" height="76.0" fill="#089981"/>
<rect x="2737.2" y="1290.8" width="16.4" height="6.7" fill="#089981"/>
<rect x="2768.4" y="1254.5" width="3.2" height="44.3" fill="#089981"/>
<rect x="2761.8" y="1269.7" width="16.4" height="18.6" fill="#089981"/>
<rect x="2792.9" y="1237.0" width="3.2" height="59.3" fill="#089981"/>
<rect x="2786.3" y="1260.2" width="16.4" height="8.8" fill="#089981"/>
<rect x="2817.5" y="1246.0" width="3.2" height="30.4" fill="#089981"/>
<rect x="2810.9" y="1248.3" width="16.4" height="8.2" fill="#089981"/>
<rect x="2842.0" y="1199.9" width="3.2" height="69.5" fill="#089981"/>
<rect x="2835.4" y="1209.8" width="16.4" height="38.0" fill="#089981"/>
<rect x="2866.6" y="1109.0" width="3.2" height="109.8" fill="#089981"/>
<rect x="2860.0" y="1147.5" width="16.4" height="61.8" fill="#089981"/>
<rect x="2891.1" y="975.7" width="3.2" height="172.1" fill="#089981"/>
<rect x="2884.5" y="1016.1" width="16.4" height="131.7" fill="#089981"/>
<rect x="2915.7" y="966.5" width="3.2" height="146.5" fill="#f23645"/>
<rect x="2909.1" y="1016.1" width="16.4" height="52.2" fill="#f23645"/>
<rect x="2940.2" y="845.7" width="3.2" height="231.1" fill="#089981"/>
<rect x="2933.6" y="895.0" width="16.4" height="170.0" fill="#089981"/>
<rect x="2964.8" y="632.6" width="3.2" height="285.0" fill="#089981"/>
<rect x="2958.2" y="673.0" width="16.4" height="221.6" fill="#089981"/>
<rect x="2989.3" y="659.6" width="3.2" height="337.7" fill="#f23645"/>
<rect x="2982.7" y="674.8" width="16.4" height="249.2" fill="#f23645"/>
<rect x="3013.9" y="787.0" width="3.2" height="177.5" fill="#089981"/>
<rect x="3007.3" y="851.3" width="16.4" height="74.7" fill="#089981"/>
<rect x="3038.4" y="799.0" width="3.2" height="223.9" fill="#f23645"/>
<rect x="3031.8" y="851.3" width="16.4" height="115.2" fill="#f23645"/>
<rect x="3063.0" y="922.5" width="3.2" height="176.1" fill="#f23645"/>
<rect x="3056.4" y="967.0" width="16.4" height="32.8" fill="#f23645"/>
<rect x="3087.5" y="982.4" width="3.2" height="188.8" fill="#f23645"/>
<rect x="3080.9" y="999.8" width="16.4" height="74.0" fill="#f23645"/>
<rect x="3112.1" y="944.0" width="3.2" height="182.0" fill="#089981"/>
<rect x="3105.5" y="991.3" width="16.4" height="82.5" fill="#089981"/>
<rect x="3136.6" y="957.5" width="3.2" height="93.9" fill="#f23645"/>
<rect x="3130.0" y="991.3" width="16.4" height="31.6" fill="#f23645"/>
<rect x="3161.2" y="613.0" width="3.2" height="460.8" fill="#089981"/>
<rect x="3154.6" y="643.5" width="16.4" height="379.4" fill="#089981"/>
<rect x="3185.7" y="422.6" width="3.2" height="403.4" fill="#f23645"/>
<rect x="3179.1" y="643.5" width="16.4" height="67.4" fill="#f23645"/>
<rect x="3210.3" y="564.3" width="3.2" height="231.4" fill="#f23645"/>
<rect x="3203.7" y="708.0" width="16.4" height="3.0" fill="#f23645"/>
<rect x="3234.8" y="694.8" width="3.2" height="310.7" fill="#f23645"/>
<rect x="3228.2" y="710.9" width="16.4" height="232.6" fill="#f23645"/>
<rect x="3259.4" y="868.7" width="3.2" height="181.5" fill="#f23645"/>
<rect x="3252.8" y="945.0" width="16.4" height="58.0" fill="#f23645"/>
<rect x="3283.9" y="973.2" width="3.2" height="136.6" fill="#f23645"/>
<rect x="3277.3" y="1004.2" width="16.4" height="47.2" fill="#f23645"/>
<rect x="8.0" y="1048.6" width="3.8" height="3.6" fill="#f34a58"/><rect x="20.9" y="1048.6" width="3.8" height="3.6" fill="#f34a58"/><rect x="33.8" y="1048.6" width="3.8" height="3.6" fill="#f34a58"/><rect x="46.7" y="1048.6" width="3.8" height="3.6" fill="#f34a58"/><rect x="59.6" y="1048.6" width="3.8" height="3.6" fill="#f34a58"/><rect x="72.5" y="1048.6" width="3.8" height="3.6" fill="#f34a58"/><rect x="85.4" y="1048.6" width="3.8" height="3.6" fill="#f34a58"/><rect x="98.3" y="1048.6" width="3.8" height="3.6" fill="#f34a58"/><rect x="111.2" y="1048.6" width="3.8" height="3.6" fill="#f34a58"/><rect x="124.1" y="1048.6" width="3.8" height="3.6" fill="#f34a58"/><rect x="137.0" y="1048.6" width="3.8" height="3.6" fill="#f34a58"/><rect x="149.9" y="1048.6" width="3.8" height="3.6" fill="#f34a58"/><rect x="162.8" y="1048.6" width="3.8" height="3.6" fill="#f34a58"/><rect x="175.7" y="1048.6" width="3.8" height="3.6" fill="#f34a58"/><rect x="188.6" y="1048.6" width="3.8" height="3.6" fill="#f34a58"/><rect x="201.5" y="1048.6" width="3.8" height="3.6" fill="#f34a58"/><rect x="214.4" y="1048.6" width="3.8" height="3.6" fill="#f34a58"/><rect x="227.3" y="1048.6" width="3.8" height="3.6" fill="#f34a58"/><rect x="240.2" y="1048.6" width="3.8" height="3.6" fill="#f34a58"/><rect x="253.1" y="1048.6" width="3.8" height="3.6" fill="#f34a58"/><rect x="266.0" y="1048.6" width="3.8" height="3.6" fill="#f34a58"/><rect x="278.9" y="1048.6" width="3.8" height="3.6" fill="#f34a58"/><rect x="291.8" y="1048.6" width="3.8" height="3.6" fill="#f34a58"/><rect x="304.7" y="1048.6" width="3.8" height="3.6" fill="#f34a58"/><rect x="317.6" y="1048.6" width="3.8" height="3.6" fill="#f34a58"/><rect x="330.5" y="1048.6" width="3.8" height="3.6" fill="#f34a58"/><rect x="343.4" y="1048.6" width="3.8" height="3.6" fill="#f34a58"/><rect x="356.3" y="1048.6" width="3.8" height="3.6" fill="#f34a58"/><rect x="369.2" y="1048.6" width="3.8" height="3.6" fill="#f34a58"/><rect x="382.1" y="1048.6" width="3.8" height="3.6" fill="#f34a58"/><rect x="395.0" y="1048.6" width="3.8" height="3.6" fill="#f34a58"/><rect x="407.9" y="1048.6" width="3.8" height="3.6" fill="#f34a58"/><rect x="420.8" y="1048.6" width="3.8" height="3.6" fill="#f34a58"/><rect x="433.7" y="1048.6" width="3.8" height="3.6" fill="#f34a58"/><rect x="446.6" y="1048.6" width="3.8" height="3.6" fill="#f34a58"/><rect x="459.5" y="1048.6" width="3.8" height="3.6" fill="#f34a58"/><rect x="472.4" y="1048.6" width="3.8" height="3.6" fill="#f34a58"/><rect x="485.3" y="1048.6" width="3.8" height="3.6" fill="#f34a58"/><rect x="498.2" y="1048.6" width="3.8" height="3.6" fill="#f34a58"/><rect x="511.1" y="1048.6" width="3.8" height="3.6" fill="#f34a58"/><rect x="524.0" y="1048.6" width="3.8" height="3.6" fill="#f34a58"/><rect x="536.9" y="1048.6" width="3.8" height="3.6" fill="#f34a58"/><rect x="549.8" y="1048.6" width="3.8" height="3.6" fill="#f34a58"/><rect x="562.7" y="1048.6" width="3.8" height="3.6" fill="#f34a58"/><rect x="575.6" y="1048.6" width="3.8" height="3.6" fill="#f34a58"/><rect x="588.5" y="1048.6" width="3.8" height="3.6" fill="#f34a58"/><rect x="601.4" y="1048.6" width="3.8" height="3.6" fill="#f34a58"/><rect x="614.3" y="1048.6" width="3.8" height="3.6" fill="#f34a58"/><rect x="627.2" y="1048.6" width="3.8" height="3.6" fill="#f34a58"/><rect x="640.1" y="1048.6" width="3.8" height="3.6" fill="#f34a58"/><rect x="653.0" y="1048.6" width="3.8" height="3.6" fill="#f34a58"/><rect x="665.9" y="1048.6" width="3.8" height="3.6" fill="#f34a58"/><rect x="678.8" y="1048.6" width="3.8" height="3.6" fill="#f34a58"/><rect x="691.7" y="1048.6" width="3.8" height="3.6" fill="#f34a58"/><rect x="704.6" y="1048.6" width="3.8" height="3.6" fill="#f34a58"/><rect x="717.5" y="1048.6" width="3.8" height="3.6" fill="#f34a58"/><rect x="730.4" y="1048.6" width="3.8" height="3.6" fill="#f34a58"/><rect x="743.3" y="1048.6" width="3.8" height="3.6" fill="#f34a58"/><rect x="756.2" y="1048.6" width="3.8" height="3.6" fill="#f34a58"/><rect x="769.1" y="1048.6" width="3.8" height="3.6" fill="#f34a58"/><rect x="782.0" y="1048.6" width="3.8" height="3.6" fill="#f34a58"/><rect x="794.9" y="1048.6" width="3.8" height="3.6" fill="#f34a58"/><rect x="807.8" y="1048.6" width="3.8" height="3.6" fill="#f34a58"/><rect x="820.7" y="1048.6" width="3.8" height="3.6" fill="#f34a58"/><rect x="833.6" y="1048.6" width="3.8" height="3.6" fill="#f34a58"/><rect x="846.5" y="1048.6" width="3.8" height="3.6" fill="#f34a58"/><rect x="859.4" y="1048.6" width="3.8" height="3.6" fill="#f34a58"/><rect x="872.3" y="1048.6" width="3.8" height="3.6" fill="#f34a58"/><rect x="885.2" y="1048.6" width="3.8" height="3.6" fill="#f34a58"/><rect x="898.1" y="1048.6" width="3.8" height="3.6" fill="#f34a58"/><rect x="911.0" y="1048.6" width="3.8" height="3.6" fill="#f34a58"/><rect x="923.9" y="1048.6" width="3.8" height="3.6" fill="#f34a58"/><rect x="936.8" y="1048.6" width="3.8" height="3.6" fill="#f34a58"/><rect x="949.7" y="1048.6" width="3.8" height="3.6" fill="#f34a58"/><rect x="962.6" y="1048.6" width="3.8" height="3.6" fill="#f34a58"/><rect x="975.5" y="1048.6" width="3.8" height="3.6" fill="#f34a58"/><rect x="988.4" y="1048.6" width="3.8" height="3.6" fill="#f34a58"/><rect x="1001.3" y="1048.6" width="3.8" height="3.6" fill="#f34a58"/><rect x="1014.2" y="1048.6" width="3.8" height="3.6" fill="#f34a58"/><rect x="1027.1" y="1048.6" width="3.8" height="3.6" fill="#f34a58"/><rect x="1040.0" y="1048.6" width="3.8" height="3.6" fill="#f34a58"/><rect x="1052.9" y="1048.6" width="3.8" height="3.6" fill="#f34a58"/><rect x="1065.8" y="1048.6" width="3.8" height="3.6" fill="#f34a58"/><rect x="1078.7" y="1048.6" width="3.8" height="3.6" fill="#f34a58"/><rect x="1091.6" y="1048.6" width="3.8" height="3.6" fill="#f34a58"/><rect x="1104.5" y="1048.6" width="3.8" height="3.6" fill="#f34a58"/><rect x="1117.4" y="1048.6" width="3.8" height="3.6" fill="#f34a58"/><rect x="1130.3" y="1048.6" width="3.8" height="3.6" fill="#f34a58"/><rect x="1143.2" y="1048.6" width="3.8" height="3.6" fill="#f34a58"/><rect x="1156.1" y="1048.6" width="3.8" height="3.6" fill="#f34a58"/><rect x="1169.0" y="1048.6" width="3.8" height="3.6" fill="#f34a58"/><rect x="1181.9" y="1048.6" width="3.8" height="3.6" fill="#f34a58"/><rect x="1194.8" y="1048.6" width="3.8" height="3.6" fill="#f34a58"/><rect x="1207.7" y="1048.6" width="3.8" height="3.6" fill="#f34a58"/><rect x="1220.6" y="1048.6" width="3.8" height="3.6" fill="#f34a58"/><rect x="1233.5" y="1048.6" width="3.8" height="3.6" fill="#f34a58"/><rect x="1246.4" y="1048.6" width="3.8" height="3.6" fill="#f34a58"/><rect x="1259.3" y="1048.6" width="3.8" height="3.6" fill="#f34a58"/><rect x="1272.2" y="1048.6" width="3.8" height="3.6" fill="#f34a58"/><rect x="1285.1" y="1048.6" width="3.8" height="3.6" fill="#f34a58"/><rect x="1298.0" y="1048.6" width="3.8" height="3.6" fill="#f34a58"/><rect x="1310.9" y="1048.6" width="3.8" height="3.6" fill="#f34a58"/><rect x="1323.8" y="1048.6" width="3.8" height="3.6" fill="#f34a58"/><rect x="1336.7" y="1048.6" width="3.8" height="3.6" fill="#f34a58"/><rect x="1349.6" y="1048.6" width="3.8" height="3.6" fill="#f34a58"/><rect x="1362.5" y="1048.6" width="3.8" height="3.6" fill="#f34a58"/><rect x="1375.4" y="1048.6" width="3.8" height="3.6" fill="#f34a58"/><rect x="1388.3" y="1048.6" width="3.8" height="3.6" fill="#f34a58"/><rect x="1401.2" y="1048.6" width="3.8" height="3.6" fill="#f34a58"/><rect x="1414.1" y="1048.6" width="3.8" height="3.6" fill="#f34a58"/><rect x="1427.0" y="1048.6" width="3.8" height="3.6" fill="#f34a58"/><rect x="1439.9" y="1048.6" width="3.8" height="3.6" fill="#f34a58"/><rect x="1452.8" y="1048.6" width="3.8" height="3.6" fill="#f34a58"/><rect x="1465.7" y="1048.6" width="3.8" height="3.6" fill="#f34a58"/><rect x="1478.6" y="1048.6" width="3.8" height="3.6" fill="#f34a58"/><rect x="1491.5" y="1048.6" width="3.8" height="3.6" fill="#f34a58"/><rect x="1504.4" y="1048.6" width="3.8" height="3.6" fill="#f34a58"/><rect x="1517.3" y="1048.6" width="3.8" height="3.6" fill="#f34a58"/><rect x="1530.2" y="1048.6" width="3.8" height="3.6" fill="#f34a58"/><rect x="1543.1" y="1048.6" width="3.8" height="3.6" fill="#f34a58"/><rect x="1556.0" y="1048.6" width="3.8" height="3.6" fill="#f34a58"/><rect x="1568.9" y="1048.6" width="3.8" height="3.6" fill="#f34a58"/><rect x="1581.8" y="1048.6" width="3.8" height="3.6" fill="#f34a58"/><rect x="1594.7" y="1048.6" width="3.8" height="3.6" fill="#f34a58"/><rect x="1607.6" y="1048.6" width="3.8" height="3.6" fill="#f34a58"/><rect x="1620.5" y="1048.6" width="3.8" height="3.6" fill="#f34a58"/><rect x="1633.4" y="1048.6" width="3.8" height="3.6" fill="#f34a58"/><rect x="1646.3" y="1048.6" width="3.8" height="3.6" fill="#f34a58"/><rect x="1659.2" y="1048.6" width="3.8" height="3.6" fill="#f34a58"/><rect x="1672.1" y="1048.6" width="3.8" height="3.6" fill="#f34a58"/><rect x="1685.0" y="1048.6" width="3.8" height="3.6" fill="#f34a58"/><rect x="1697.9" y="1048.6" width="3.8" height="3.6" fill="#f34a58"/><rect x="1710.8" y="1048.6" width="3.8" height="3.6" fill="#f34a58"/><rect x="1723.7" y="1048.6" width="3.8" height="3.6" fill="#f34a58"/><rect x="1736.6" y="1048.6" width="3.8" height="3.6" fill="#f34a58"/><rect x="1749.5" y="1048.6" width="3.8" height="3.6" fill="#f34a58"/><rect x="1762.4" y="1048.6" width="3.8" height="3.6" fill="#f34a58"/><rect x="1775.3" y="1048.6" width="3.8" height="3.6" fill="#f34a58"/><rect x="1788.2" y="1048.6" width="3.8" height="3.6" fill="#f34a58"/><rect x="1801.1" y="1048.6" width="3.8" height="3.6" fill="#f34a58"/><rect x="1814.0" y="1048.6" width="3.8" height="3.6" fill="#f34a58"/><rect x="1826.9" y="1048.6" width="3.8" height="3.6" fill="#f34a58"/><rect x="1839.8" y="1048.6" width="3.8" height="3.6" fill="#f34a58"/><rect x="1852.7" y="1048.6" width="3.8" height="3.6" fill="#f34a58"/><rect x="1865.6" y="1048.6" width="3.8" height="3.6" fill="#f34a58"/><rect x="1878.5" y="1048.6" width="3.8" height="3.6" fill="#f34a58"/><rect x="1891.4" y="1048.6" width="3.8" height="3.6" fill="#f34a58"/><rect x="1904.3" y="1048.6" width="3.8" height="3.6" fill="#f34a58"/><rect x="1917.2" y="1048.6" width="3.8" height="3.6" fill="#f34a58"/><rect x="1930.1" y="1048.6" width="3.8" height="3.6" fill="#f34a58"/><rect x="1943.0" y="1048.6" width="3.8" height="3.6" fill="#f34a58"/><rect x="1955.9" y="1048.6" width="3.8" height="3.6" fill="#f34a58"/><rect x="1968.8" y="1048.6" width="3.8" height="3.6" fill="#f34a58"/><rect x="1981.7" y="1048.6" width="3.8" height="3.6" fill="#f34a58"/><rect x="1994.6" y="1048.6" width="3.8" height="3.6" fill="#f34a58"/><rect x="2007.5" y="1048.6" width="3.8" height="3.6" fill="#f34a58"/><rect x="2020.4" y="1048.6" width="3.8" height="3.6" fill="#f34a58"/><rect x="2033.3" y="1048.6" width="3.8" height="3.6" fill="#f34a58"/><rect x="2046.2" y="1048.6" width="3.8" height="3.6" fill="#f34a58"/><rect x="2059.1" y="1048.6" width="3.8" height="3.6" fill="#f34a58"/><rect x="2072.0" y="1048.6" width="3.8" height="3.6" fill="#f34a58"/><rect x="2084.9" y="1048.6" width="3.8" height="3.6" fill="#f34a58"/><rect x="2097.8" y="1048.6" width="3.8" height="3.6" fill="#f34a58"/><rect x="2110.7" y="1048.6" width="3.8" height="3.6" fill="#f34a58"/><rect x="2123.6" y="1048.6" width="3.8" height="3.6" fill="#f34a58"/><rect x="2136.5" y="1048.6" width="3.8" height="3.6" fill="#f34a58"/><rect x="2149.4" y="1048.6" width="3.8" height="3.6" fill="#f34a58"/><rect x="2162.3" y="1048.6" width="3.8" height="3.6" fill="#f34a58"/><rect x="2175.2" y="1048.6" width="3.8" height="3.6" fill="#f34a58"/><rect x="2188.1" y="1048.6" width="3.8" height="3.6" fill="#f34a58"/><rect x="2201.0" y="1048.6" width="3.8" height="3.6" fill="#f34a58"/><rect x="2213.9" y="1048.6" width="3.8" height="3.6" fill="#f34a58"/><rect x="2226.8" y="1048.6" width="3.8" height="3.6" fill="#f34a58"/><rect x="2239.7" y="1048.6" width="3.8" height="3.6" fill="#f34a58"/><rect x="2252.6" y="1048.6" width="3.8" height="3.6" fill="#f34a58"/><rect x="2265.5" y="1048.6" width="3.8" height="3.6" fill="#f34a58"/><rect x="2278.4" y="1048.6" width="3.8" height="3.6" fill="#f34a58"/><rect x="2291.3" y="1048.6" width="3.8" height="3.6" fill="#f34a58"/><rect x="2304.2" y="1048.6" width="3.8" height="3.6" fill="#f34a58"/><rect x="2317.1" y="1048.6" width="3.8" height="3.6" fill="#f34a58"/><rect x="2330.0" y="1048.6" width="3.8" height="3.6" fill="#f34a58"/><rect x="2342.9" y="1048.6" width="3.8" height="3.6" fill="#f34a58"/><rect x="2355.8" y="1048.6" width="3.8" height="3.6" fill="#f34a58"/><rect x="2368.7" y="1048.6" width="3.8" height="3.6" fill="#f34a58"/><rect x="2381.6" y="1048.6" width="3.8" height="3.6" fill="#f34a58"/><rect x="2394.5" y="1048.6" width="3.8" height="3.6" fill="#f34a58"/><rect x="2407.4" y="1048.6" width="3.8" height="3.6" fill="#f34a58"/><rect x="2420.3" y="1048.6" width="3.8" height="3.6" fill="#f34a58"/><rect x="2433.2" y="1048.6" width="3.8" height="3.6" fill="#f34a58"/><rect x="2446.1" y="1048.6" width="3.8" height="3.6" fill="#f34a58"/><rect x="2459.0" y="1048.6" width="3.8" height="3.6" fill="#f34a58"/><rect x="2471.9" y="1048.6" width="3.8" height="3.6" fill="#f34a58"/><rect x="2484.8" y="1048.6" width="3.8" height="3.6" fill="#f34a58"/><rect x="2497.7" y="1048.6" width="3.8" height="3.6" fill="#f34a58"/><rect x="2510.6" y="1048.6" width="3.8" height="3.6" fill="#f34a58"/><rect x="2523.5" y="1048.6" width="3.8" height="3.6" fill="#f34a58"/><rect x="2536.4" y="1048.6" width="3.8" height="3.6" fill="#f34a58"/><rect x="2549.3" y="1048.6" width="3.8" height="3.6" fill="#f34a58"/><rect x="2562.2" y="1048.6" width="3.8" height="3.6" fill="#f34a58"/><rect x="2575.1" y="1048.6" width="3.8" height="3.6" fill="#f34a58"/><rect x="2588.0" y="1048.6" width="3.8" height="3.6" fill="#f34a58"/><rect x="2600.9" y="1048.6" width="3.8" height="3.6" fill="#f34a58"/><rect x="2613.8" y="1048.6" width="3.8" height="3.6" fill="#f34a58"/><rect x="2626.7" y="1048.6" width="3.8" height="3.6" fill="#f34a58"/><rect x="2639.6" y="1048.6" width="3.8" height="3.6" fill="#f34a58"/><rect x="2652.5" y="1048.6" width="3.8" height="3.6" fill="#f34a58"/><rect x="2665.4" y="1048.6" width="3.8" height="3.6" fill="#f34a58"/><rect x="2678.3" y="1048.6" width="3.8" height="3.6" fill="#f34a58"/><rect x="2691.2" y="1048.6" width="3.8" height="3.6" fill="#f34a58"/><rect x="2704.1" y="1048.6" width="3.8" height="3.6" fill="#f34a58"/><rect x="2717.0" y="1048.6" width="3.8" height="3.6" fill="#f34a58"/><rect x="2729.9" y="1048.6" width="3.8" height="3.6" fill="#f34a58"/><rect x="2742.8" y="1048.6" width="3.8" height="3.6" fill="#f34a58"/><rect x="2755.7" y="1048.6" width="3.8" height="3.6" fill="#f34a58"/><rect x="2768.6" y="1048.6" width="3.8" height="3.6" fill="#f34a58"/><rect x="2781.5" y="1048.6" width="3.8" height="3.6" fill="#f34a58"/><rect x="2794.4" y="1048.6" width="3.8" height="3.6" fill="#f34a58"/><rect x="2807.3" y="1048.6" width="3.8" height="3.6" fill="#f34a58"/><rect x="2820.2" y="1048.6" width="3.8" height="3.6" fill="#f34a58"/><rect x="2833.1" y="1048.6" width="3.8" height="3.6" fill="#f34a58"/><rect x="2846.0" y="1048.6" width="3.8" height="3.6" fill="#f34a58"/><rect x="2858.9" y="1048.6" width="3.8" height="3.6" fill="#f34a58"/><rect x="2871.8" y="1048.6" width="3.8" height="3.6" fill="#f34a58"/><rect x="2884.7" y="1048.6" width="3.8" height="3.6" fill="#f34a58"/><rect x="2897.6" y="1048.6" width="3.8" height="3.6" fill="#f34a58"/><rect x="2910.5" y="1048.6" width="3.8" height="3.6" fill="#f34a58"/><rect x="2923.4" y="1048.6" width="3.8" height="3.6" fill="#f34a58"/><rect x="2936.3" y="1048.6" width="3.8" height="3.6" fill="#f34a58"/><rect x="2949.2" y="1048.6" width="3.8" height="3.6" fill="#f34a58"/><rect x="2962.1" y="1048.6" width="3.8" height="3.6" fill="#f34a58"/><rect x="2975.0" y="1048.6" width="3.8" height="3.6" fill="#f34a58"/><rect x="2987.9" y="1048.6" width="3.8" height="3.6" fill="#f34a58"/><rect x="3000.8" y="1048.6" width="3.8" height="3.6" fill="#f34a58"/><rect x="3013.7" y="1048.6" width="3.8" height="3.6" fill="#f34a58"/><rect x="3026.6" y="1048.6" width="3.8" height="3.6" fill="#f34a58"/><rect x="3039.5" y="1048.6" width="3.8" height="3.6" fill="#f34a58"/><rect x="3052.4" y="1048.6" width="3.8" height="3.6" fill="#f34a58"/><rect x="3065.3" y="1048.6" width="3.8" height="3.6" fill="#f34a58"/><rect x="3078.2" y="1048.6" width="3.8" height="3.6" fill="#f34a58"/><rect x="3091.1" y="1048.6" width="3.8" height="3.6" fill="#f34a58"/><rect x="3104.0" y="1048.6" width="3.8" height="3.6" fill="#f34a58"/><rect x="3116.9" y="1048.6" width="3.8" height="3.6" fill="#f34a58"/><rect x="3129.8" y="1048.6" width="3.8" height="3.6" fill="#f34a58"/><rect x="3142.7" y="1048.6" width="3.8" height="3.6" fill="#f34a58"/><rect x="3155.6" y="1048.6" width="3.8" height="3.6" fill="#f34a58"/><rect x="3168.5" y="1048.6" width="3.8" height="3.6" fill="#f34a58"/><rect x="3181.4" y="1048.6" width="3.8" height="3.6" fill="#f34a58"/><rect x="3194.3" y="1048.6" width="3.8" height="3.6" fill="#f34a58"/><rect x="3207.2" y="1048.6" width="3.8" height="3.6" fill="#f34a58"/><rect x="3220.1" y="1048.6" width="3.8" height="3.6" fill="#f34a58"/><rect x="3233.0" y="1048.6" width="3.8" height="3.6" fill="#f34a58"/><rect x="3245.9" y="1048.6" width="3.8" height="3.6" fill="#f34a58"/><rect x="3258.8" y="1048.6" width="3.8" height="3.6" fill="#f34a58"/><rect x="3271.7" y="1048.6" width="3.8" height="3.6" fill="#f34a58"/><rect x="3284.6" y="1048.6" width="3.8" height="3.6" fill="#f34a58"/><rect x="3297.5" y="1048.6" width="3.8" height="3.6" fill="#f34a58"/><rect x="3310.4" y="1048.6" width="3.8" height="3.6" fill="#f34a58"/><rect x="3323.3" y="1048.6" width="3.8" height="3.6" fill="#f34a58"/><rect x="3336.2" y="1048.6" width="3.8" height="3.6" fill="#f34a58"/><rect x="3349.1" y="1048.6" width="3.8" height="3.6" fill="#f34a58"/><rect x="3362.0" y="1048.6" width="3.8" height="3.6" fill="#f34a58"/><rect x="3374.9" y="1048.6" width="3.8" height="3.6" fill="#f34a58"/><rect x="3387.8" y="1048.6" width="3.8" height="3.6" fill="#f34a58"/><rect x="3400.7" y="1048.6" width="3.8" height="3.6" fill="#f34a58"/><rect x="3413.6" y="1048.6" width="3.8" height="3.6" fill="#f34a58"/><rect x="3426.5" y="1048.6" width="3.8" height="3.6" fill="#f34a58"/><rect x="3439.4" y="1048.6" width="3.8" height="3.6" fill="#f34a58"/><rect x="3452.3" y="1048.6" width="3.8" height="3.6" fill="#f34a58"/><rect x="3465.2" y="1048.6" width="3.8" height="3.6" fill="#f34a58"/><rect x="3478.1" y="1048.6" width="3.8" height="3.6" fill="#f34a58"/><rect x="3491.0" y="1048.6" width="3.8" height="3.6" fill="#f34a58"/><rect x="3503.9" y="1048.6" width="3.8" height="3.6" fill="#f34a58"/><rect x="3516.8" y="1048.6" width="3.8" height="3.6" fill="#f34a58"/><rect x="3529.7" y="1048.6" width="3.8" height="3.6" fill="#f34a58"/><rect x="3542.6" y="1048.6" width="3.8" height="3.6" fill="#f34a58"/>
<circle cx="94.2" cy="1549" r="21.5" fill="#fff"/><circle cx="94.2" cy="1549" r="14.8" fill="#fff" stroke="#2a4ed0" stroke-width="4.2"/>
<circle cx="585.1" cy="1549" r="21.5" fill="#fff"/><circle cx="585.1" cy="1549" r="14.8" fill="#fff" stroke="#2a4ed0" stroke-width="4.2"/>
<circle cx="1076.1" cy="1521" r="21.5" fill="#fff"/><circle cx="1076.1" cy="1521" r="14.8" fill="#fff" stroke="#2a4ed0" stroke-width="4.2"/>
<circle cx="1567.1" cy="1502" r="21.5" fill="#fff"/><circle cx="1567.1" cy="1502" r="14.8" fill="#fff" stroke="#2a4ed0" stroke-width="4.2"/>
<circle cx="2058.1" cy="1259.5" r="21.5" fill="#fff"/><circle cx="2058.1" cy="1259.5" r="14.8" fill="#fff" stroke="#2a4ed0" stroke-width="4.2"/>
<circle cx="2549.1" cy="1255.5" r="21.5" fill="#fff"/><circle cx="2549.1" cy="1255.5" r="14.8" fill="#fff" stroke="#2a4ed0" stroke-width="4.2"/>
<circle cx="3040.0" cy="907.8" r="21.5" fill="#fff"/><circle cx="3040.0" cy="907.8" r="14.8" fill="#fff" stroke="#2a4ed0" stroke-width="4.2"/>
<rect x="3505.6" y="10" width="3.4" height="1748" fill="#e8e8e8"/>
<rect x="8" y="1880.8" width="3832" height="2.6" fill="#e9e9e9"/>
<rect x="1162" y="1897" width="102" height="40" rx="16" fill="#e9e9e9"/>
<!-- price labels -->
<path d="M3550.2 1014.8 H3815 a7 7 0 0 1 7 7 V1137.4 a7 7 0 0 1 -7 7 H3550.2 Z" fill="#f23645"/>
<path d="M3550 1594.6 H3784 a8 8 0 0 1 8 8 V1658.8 a8 8 0 0 1 -8 8 H3550 Z" fill="#ef5350"/>
<!-- settings hex -->
<g fill="none" stroke="#15171d" stroke-width="3.6" stroke-linejoin="round">
<path d="M3666 1823.5 L3681 1798 L3711 1798 L3726 1823.5 L3711 1849 L3681 1849 Z"/>
<circle cx="3696" cy="1823.5" r="8.5"/>
</g>
<!-- TV logo -->
<g fill="#15171d">
<path d="M61 1638.3 H110.6 V1700 H85.7 V1660 H61 Z"/>
<circle cx="132.9" cy="1649.7" r="11.2"/>
<path d="M159 1638.3 H186.3 L161.5 1700 H134.2 Z"/>
</g>
</svg>
<div id="hdr"></div>
<svg class="abs" style="left:47px;top:34px" width="77" height="77" viewBox="0 0 77 77">
<circle cx="38.5" cy="38.5" r="38.3" fill="#2962ff"/>
<g fill="none" stroke="#e6fbff" stroke-width="4.6" stroke-linecap="round" stroke-linejoin="round">
<path d="M46.3 21.6 A18.6 18.6 0 1 0 46.3 55.8"/>
<path d="M27 38.5 H60"/>
<path d="M32 32.2 H49.5 L56 25.4"/>
<path d="M32 45 H49.5 L56 52"/>
</g>
<g fill="#e6fbff"><circle cx="60.3" cy="38.5" r="4"/><circle cx="56.6" cy="25" r="3.9"/><circle cx="56.6" cy="52.4" r="3.9"/></g>
</svg>
<svg class="abs" style="left:2180px;top:40px" width="200" height="70" viewBox="2180 40 200 70">
<path d="M2184 46.7 H2235.4 L2219.3 72.5 L2235.4 98.3 H2184 Z" fill="#c9c9c9"/>
<g fill="none" stroke="#15171d" stroke-width="3.1"><circle cx="2303.1" cy="72.8" r="6.1"/><circle cx="2329.2" cy="72.8" r="6.1"/><circle cx="2355.3" cy="72.8" r="6.1"/></g>
</svg>
<span class="abs" style="left:141.9px;top:36.0px;font-size:67px;color:#15171d;letter-spacing:2.34px;line-height:normal;">Crypto</span>
<span class="abs" style="left:373.7px;top:36.0px;font-size:67px;color:#15171d;letter-spacing:1.15px;line-height:normal;">Total</span>
<span class="abs" style="left:538.7px;top:36.0px;font-size:67px;color:#15171d;letter-spacing:1.66px;line-height:normal;">Market</span>
<span class="abs" style="left:774.0px;top:36.0px;font-size:67px;color:#15171d;letter-spacing:-1.25px;line-height:normal;">Cap</span>
<span class="abs" style="left:916.1px;top:36.0px;font-size:67px;color:#15171d;letter-spacing:1.21px;line-height:normal;">Excluding</span>
<span class="abs" style="left:1237.6px;top:36.0px;font-size:67px;color:#15171d;letter-spacing:-0.30px;line-height:normal;">Top</span>
<span class="abs" style="left:1370.3px;top:36.0px;font-size:67px;color:#15171d;letter-spacing:1.95px;line-height:normal;">10,</span>
<span class="abs" style="left:1491.0px;top:36.0px;font-size:67px;color:#15171d;letter-spacing:0.00px;line-height:normal;">$</span>
<span class="abs" style="left:1582.7px;top:36.0px;font-size:67px;color:#15171d;letter-spacing:6.20px;line-height:normal;">1M</span>
<span class="abs" style="left:1732.5px;top:36.0px;font-size:67px;color:#15171d;letter-spacing:-1.71px;line-height:normal;">CRYPTOCAP</span>
<div class="abs" style="left:1551.1px;top:69.5px;width:7.4px;height:7.4px;border-radius:50%;background:#131722"></div>
<div class="abs" style="left:1702.5px;top:69.5px;width:7.4px;height:7.4px;border-radius:50%;background:#131722"></div>
<span class="abs" style="left:3584.0px;top:20.5px;font-size:51px;color:#15171d;letter-spacing:4.75px;line-height:normal;">600</span>
<span class="abs" style="left:3688.8px;top:20.5px;font-size:51px;color:#15171d;letter-spacing:0.00px;line-height:normal;">B</span>
<span class="abs" style="left:3584.0px;top:270.8px;font-size:51px;color:#15171d;letter-spacing:4.75px;line-height:normal;">500</span>
<span class="abs" style="left:3688.8px;top:270.8px;font-size:51px;color:#15171d;letter-spacing:0.00px;line-height:normal;">B</span>
<span class="abs" style="left:3585.0px;top:521.5px;font-size:51px;color:#15171d;letter-spacing:4.25px;line-height:normal;">400</span>
<span class="abs" style="left:3688.8px;top:521.5px;font-size:51px;color:#15171d;letter-spacing:0.00px;line-height:normal;">B</span>
<span class="abs" style="left:3584.0px;top:770.1px;font-size:51px;color:#15171d;letter-spacing:4.75px;line-height:normal;">300</span>
<span class="abs" style="left:3688.8px;top:770.1px;font-size:51px;color:#15171d;letter-spacing:0.00px;line-height:normal;">B</span>
<span class="abs" style="left:3585.1px;top:1270.6px;font-size:51px;color:#15171d;letter-spacing:4.20px;line-height:normal;">100</span>
<span class="abs" style="left:3688.8px;top:1270.6px;font-size:51px;color:#15171d;letter-spacing:0.00px;line-height:normal;">B</span>
<span class="abs" style="left:3584.0px;top:1520.1px;font-size:51px;color:#15171d;letter-spacing:0.00px;line-height:normal;">0</span>
<span class="abs" style="left:3583.7px;top:1021.0px;font-size:50px;color:#fde3e5;letter-spacing:4.62px;line-height:normal;">199.95</span>
<span class="abs" style="left:3770.0px;top:1021.0px;font-size:50px;color:#fde3e5;letter-spacing:0.00px;line-height:normal;">B</span>
<span class="abs" style="left:3584.9px;top:1081.5px;font-size:50px;color:#fde3e5;letter-spacing:4.90px;line-height:normal;">14d</span>
<span class="abs" style="left:3696.7px;top:1081.5px;font-size:50px;color:#fde3e5;letter-spacing:4.00px;line-height:normal;">10h</span>
<span class="abs" style="left:3584.3px;top:1601.5px;font-size:50px;color:#fde6e5;letter-spacing:4.75px;line-height:normal;">14.93</span>
<span class="abs" style="left:3739.2px;top:1601.5px;font-size:50px;color:#fde6e5;letter-spacing:0.00px;line-height:normal;">B</span>
<span class="abs" style="left:203.4px;top:1796.0px;font-size:50px;font-weight:bold;color:#15171d;letter-spacing:4.77px;line-height:normal;transform:scaleX(1.08);transform-origin:62.6px 50%;">2015</span>
<span class="abs" style="left:497.9px;top:1796.0px;font-size:50px;font-weight:bold;color:#15171d;letter-spacing:4.77px;line-height:normal;transform:scaleX(1.08);transform-origin:62.6px 50%;">2016</span>
<span class="abs" style="left:792.5px;top:1796.0px;font-size:50px;font-weight:bold;color:#15171d;letter-spacing:4.77px;line-height:normal;transform:scaleX(1.08);transform-origin:62.6px 50%;">2017</span>
<span class="abs" style="left:1087.1px;top:1796.0px;font-size:50px;font-weight:bold;color:#15171d;letter-spacing:4.77px;line-height:normal;transform:scaleX(1.08);transform-origin:62.6px 50%;">2018</span>
<span class="abs" style="left:1381.7px;top:1796.0px;font-size:50px;font-weight:bold;color:#15171d;letter-spacing:4.77px;line-height:normal;transform:scaleX(1.08);transform-origin:62.6px 50%;">2019</span>
<span class="abs" style="left:1676.3px;top:1796.0px;font-size:50px;font-weight:bold;color:#15171d;letter-spacing:4.77px;line-height:normal;transform:scaleX(1.08);transform-origin:62.6px 50%;">2020</span>
<span class="abs" style="left:1970.4px;top:1796.0px;font-size:50px;font-weight:bold;color:#15171d;letter-spacing:4.77px;line-height:normal;transform:scaleX(1.08);transform-origin:63.1px 50%;">2021</span>
<span class="abs" style="left:2265.5px;top:1796.0px;font-size:50px;font-weight:bold;color:#15171d;letter-spacing:4.77px;line-height:normal;transform:scaleX(1.08);transform-origin:62.6px 50%;">2022</span>
<span class="abs" style="left:2560.1px;top:1796.0px;font-size:50px;font-weight:bold;color:#15171d;letter-spacing:4.77px;line-height:normal;transform:scaleX(1.08);transform-origin:62.6px 50%;">2023</span>
<span class="abs" style="left:2853.6px;top:1796.0px;font-size:50px;font-weight:bold;color:#15171d;letter-spacing:4.77px;line-height:normal;transform:scaleX(1.08);transform-origin:63.6px 50%;">2024</span>
<span class="abs" style="left:3149.2px;top:1796.0px;font-size:50px;font-weight:bold;color:#15171d;letter-spacing:4.77px;line-height:normal;transform:scaleX(1.08);transform-origin:62.6px 50%;">2025</span>
<div class="abs" style="left:0;top:0;width:3540px;height:1920px;overflow:hidden"><span class="abs" style="left:3443.8px;top:1796.0px;font-size:50px;font-weight:bold;color:#15171d;letter-spacing:4.77px;line-height:normal;transform:scaleX(1.08);transform-origin:62.6px 50%;">2026</span></div>
<span class="abs" style="left:219.3px;top:1619.0px;font-size:89px;font-weight:bold;color:#15171d;letter-spacing:-0.54px;line-height:normal;">TradingView</span>
</body></html>
